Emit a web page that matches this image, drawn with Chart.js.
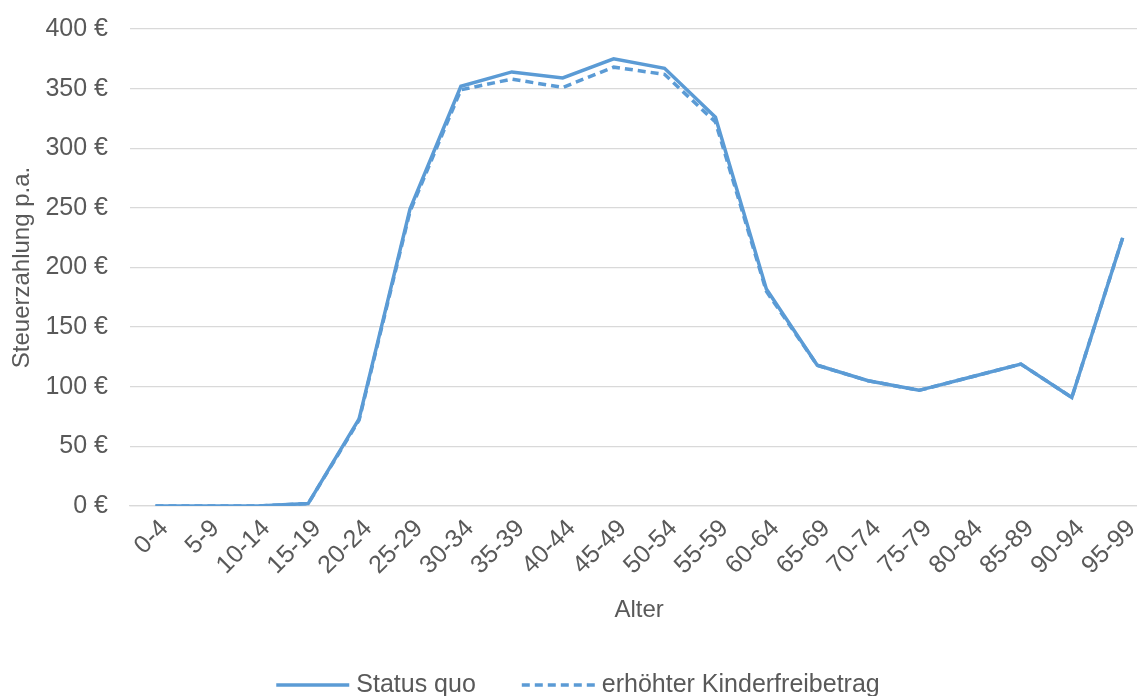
<!DOCTYPE html>
<html>
<head>
<meta charset="utf-8">
<script src="https://cdn.jsdelivr.net/npm/chart.js@4"></script>
<style>
html,body{margin:0;padding:0;background:#fff;overflow:hidden;}
#wrap{width:1152px;height:704px;position:relative;margin-top:-8px;}
</style>
</head>
<body>
<div id="wrap"><canvas id="c"></canvas></div>
<script>
const categories = ['0-4','5-9','10-14','15-19','20-24','25-29','30-34','35-39','40-44','45-49','50-54','55-59','60-64','65-69','70-74','75-79','80-84','85-89','90-94','95-99'];
const statusQuo = [0,0,0,2,73,249,352,364,359,375,367,326,182,118,105,97,108,119,91,225];
const erhoehterKFB = [0,0,0,2,72,247,349,358,351,368,362,322,180,118,105,97,108,119,91,225];
const yTicks = [0,50,100,150,200,250,300,350,400];
const seriesLabels = ['Status quo','erhöhter Kinderfreibetrag'];

const FONT = "'Liberation Sans', Arial, sans-serif";
const GREY = '#595959';
const BLUE = '#5B9BD5';

const customLegend = {
  id: 'customLegend',
  afterDraw(chart) {
    const ctx = chart.ctx;
    ctx.save();
    ctx.font = '25px ' + FONT;
    ctx.textBaseline = 'middle';
    ctx.textAlign = 'left';
    const sample = 73, gap = 7, itemGap = 46;
    const items = chart.data.datasets.map(ds => ({ds, w: ctx.measureText(ds.label).width}));
    let total = 0;
    items.forEach((it, i) => { total += sample + gap + it.w + (i ? itemGap : 0); });
    let x = 578 - total / 2;
    const y = 693;
    items.forEach((it, i) => {
      if (i) x += itemGap;
      ctx.beginPath();
      ctx.strokeStyle = it.ds.borderColor;
      ctx.lineWidth = it.ds.borderWidth;
      ctx.setLineDash(it.ds.borderDash || []);
      ctx.moveTo(x, y);
      ctx.lineTo(x + sample, y);
      ctx.stroke();
      ctx.setLineDash([]);
      x += sample + gap;
      ctx.fillStyle = GREY;
      ctx.fillText(it.ds.label, x, y);
      x += it.w;
    });
    ctx.restore();
  }
};

new Chart(document.getElementById('c'), {
  type: 'line',
  data: {
    labels: categories,
    datasets: [
      { label: seriesLabels[0], data: statusQuo, borderColor: BLUE, backgroundColor: BLUE, borderWidth: 3.5, pointRadius: 0, tension: 0, fill: false },
      { label: seriesLabels[1], data: erhoehterKFB, borderColor: BLUE, backgroundColor: BLUE, borderWidth: 3.5, borderDash: [8,5], pointRadius: 0, tension: 0, fill: false }
    ]
  },
  options: {
    responsive: true,
    maintainAspectRatio: false,
    animation: false,
    events: [],
    layout: { padding: { top: 19, right: 3, left: 0, bottom: 0 } },
    plugins: { legend: { display: false }, tooltip: { enabled: false } },
    scales: {
      x: {
        type: 'category',
        offset: true,
        grid: { display: false, drawTicks: false },
        border: { display: true, color: '#d9d9d9', width: 1.3 },
        ticks: { color: GREY, font: { family: FONT, size: 25 }, minRotation: 45, maxRotation: 45, autoSkip: false, padding: 8, labelOffset: 9 },
        title: { display: true, text: 'Alter', color: GREY, font: { family: FONT, size: 24 }, padding: { top: 71, bottom: 71 } },
        afterFit(s) { s.height = 190; }
      },
      y: {
        min: 0, max: 400,
        afterBuildTicks(s) { s.ticks = yTicks.map(v => ({ value: v })); },
        grid: { color: '#d9d9d9', lineWidth: 1.3, drawTicks: false },
        border: { display: false },
        ticks: { color: GREY, font: { family: FONT, size: 25 }, padding: 22, callback: v => v + ' €' },
        title: { display: true, text: 'Steuerzahlung p.a.', color: GREY, font: { family: FONT, size: 24 }, padding: { top: 8, bottom: 8 } },
        afterFit(s) { s.width = 130; }
      }
    }
  },
  plugins: [customLegend]
});
</script>
</body>
</html>
